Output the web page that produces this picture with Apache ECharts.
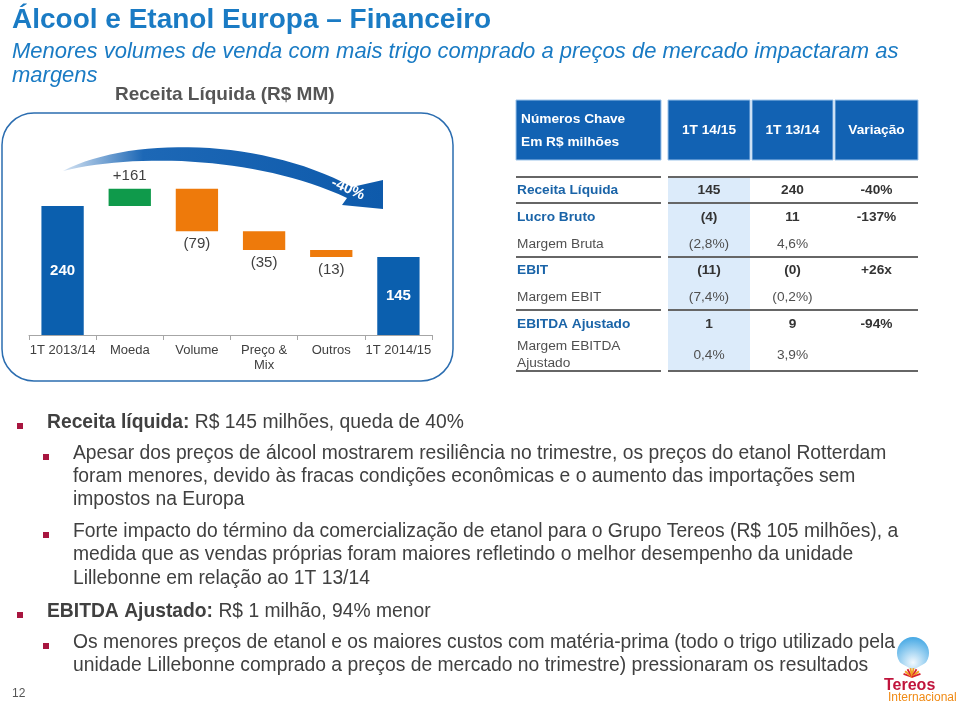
<!DOCTYPE html>
<html><head><meta charset="utf-8">
<script src="https://cdn.jsdelivr.net/npm/echarts@6/dist/echarts.min.js"></script>
<style>html,body{margin:0;padding:0;background:#fff}#c{width:960px;height:704px}</style>
</head><body><div id="c"></div>
<script>
// ---- chart data ----
const categories = ['1T 2013/14', 'Moeda', 'Volume', 'Preço &\nMix', 'Outros', '1T 2014/15'];
const startValue = 240;
const deltas = [32, -79, -35, -13];   // bar heights as drawn
const endValue = 145;
const barLabels = ['240', '+161', '(79)', '(35)', '(13)', '145'];

// ---- table data ----
const tableHeader = ['1T 14/15', '1T 13/14', 'Variação'];
const rowLabels = ['Receita Líquida', 'Lucro Bruto', 'Margem Bruta', 'EBIT', 'Margem EBIT', 'EBITDA Ajustado', 'Margem EBITDA\nAjustado'];
const col1415 = ['145', '(4)', '(2,8%)', '(11)', '(7,4%)', '1', '0,4%'];
const col1314 = ['240', '11', '4,6%', '(0)', '(0,2%)', '9', '3,9%'];
const colVar = ['-40%', '-137%', '', '+26x', '', '-94%', ''];
const boldRows = [true, true, false, true, false, true, false];

// ---- text ----
const bullets = [
  {lvl: 1, lines: ['{b|Receita líquida:} R$ 145 milhões, queda de 40%']},
  {lvl: 2, lines: ['Apesar dos preços de álcool mostrarem resiliência no trimestre, os preços do etanol Rotterdam',
                   'foram menores, devido às fracas condições econômicas e o aumento das importações sem',
                   'impostos na Europa']},
  {lvl: 2, lines: ['Forte impacto do término da comercialização de etanol para o Grupo Tereos (R$ 105 milhões), a',
                   'medida que as vendas próprias foram maiores refletindo o melhor desempenho da unidade',
                   'Lillebonne em relação ao 1T 13/14']},
  {lvl: 1, lines: ['{b|EBITDA Ajustado:} R$ 1 milhão, 94% menor']},
  {lvl: 2, lines: ['Os menores preços de etanol e os maiores custos com matéria-prima (todo o trigo utilizado pela',
                   'unidade Lillebonne comprado a preços de mercado no trimestre) pressionaram os resultados']}
];

const FONT = '"Liberation Sans", Arial, sans-serif';

// waterfall construction
const baseVals = [0], barVals = [startValue];
let run = startValue;
deltas.forEach(d => {
  if (d >= 0) { baseVals.push(run); barVals.push(d); run += d; }
  else { run += d; baseVals.push(run); barVals.push(-d); }
});
baseVals.push(0); barVals.push(endValue);
const barColors = ['#0b5fae', '#0f9a4b', '#ee7a0b', '#ee7a0b', '#ee7a0b', '#0b5fae'];

const barData = barVals.map((v, i) => {
  const isTotal = (i === 0 || i === barVals.length - 1);
  const isPos = !isTotal && deltas[i - 1] >= 0;
  return {
    value: v,
    itemStyle: {color: barColors[i]},
    label: {
      show: true,
      formatter: barLabels[i],
      position: isTotal ? 'inside' : (isPos ? 'top' : 'bottom'),
      distance: 5,
      color: isTotal ? '#ffffff' : '#404040',
      fontWeight: isTotal ? 'bold' : 'normal',
      fontSize: 15,
      fontFamily: FONT
    }
  };
});

const g = [];
function txt(x, y, text, o) {
  g.push({type: 'text', silent: true, z: 10, style: Object.assign({
    x: x, y: y, text: text, fontFamily: FONT, fontSize: 13, fill: '#333',
    align: 'left', verticalAlign: 'middle', textAlign: 'left', textVerticalAlign: 'middle'
  }, o || {})});
}
function rect(x, y, w, h, o, r) {
  g.push({type: 'rect', silent: true, shape: {x: x, y: y, width: w, height: h, r: r || 0}, style: o, z: 1});
}
function line(x1, y1, x2, y2, o) {
  g.push({type: 'line', silent: true, z: 2, shape: {x1: x1, y1: y1, x2: x2, y2: y2}, style: o});
}
function bez(p0, p1, p2, p3, n) {
  const pts = [];
  for (let i = 0; i <= n; i++) {
    const t = i / n, u = 1 - t;
    pts.push([u*u*u*p0[0] + 3*u*u*t*p1[0] + 3*u*t*t*p2[0] + t*t*t*p3[0],
              u*u*u*p0[1] + 3*u*u*t*p1[1] + 3*u*t*t*p2[1] + t*t*t*p3[1]]);
  }
  return pts;
}

// Titles
txt(12, 20, 'Álcool e Etanol Europa – Financeiro', {fontSize: 28, fontWeight: 'bold', fill: '#1a7bc4'});
txt(12, 52, 'Menores volumes de venda com mais trigo comprado a preços de mercado impactaram as', {fontSize: 22, fontStyle: 'italic', fill: '#1a7bc4'});
txt(12, 76, 'margens', {fontSize: 22, fontStyle: 'italic', fill: '#1a7bc4'});
txt(115, 95, 'Receita Líquida (R$ MM)', {fontSize: 19, fontWeight: 'bold', fill: '#555555'});

// Chart box
rect(2, 113, 451, 268, {fill: 'none', stroke: '#2b6db0', lineWidth: 1.5}, 32);

// Curved arrow (decoration)
const upper = bez([63, 171], [130, 136], [262, 138], [352, 187], 30);
const lower = bez([347, 198], [262, 158], [140, 152], [63, 171], 30);
const arrowPts = upper.concat([[383, 180], [383, 209], [342, 205]]).concat(lower);
g.push({type: 'polygon', silent: true, z: 5,
  shape: {points: arrowPts},
  style: {fill: {type: 'linear', x: 0, y: 0, x2: 1, y2: 0, colorStops: [
    {offset: 0, color: '#d6e4f3'}, {offset: 0.25, color: '#1d68b6'}, {offset: 1, color: '#0e5aab'}]}}
});
g.push({type: 'text', silent: true, z: 6, x: 348, y: 189, rotation: -0.42,
  style: {text: '-40%', x: 0, y: 0, fill: '#ffffff', fontWeight: 'bold', fontSize: 15, fontFamily: FONT,
    align: 'center', verticalAlign: 'middle', textAlign: 'center', textVerticalAlign: 'middle'}});

// Table header
const hdr = '#1262b3';
rect(516, 100, 145, 60, {fill: hdr, stroke: '#9cc3ea', lineWidth: 1});
txt(521, 119, 'Números Chave', {fill: '#fff', fontWeight: 'bold', fontSize: 13.7});
txt(521, 142, 'Em R$ milhões', {fill: '#fff', fontWeight: 'bold', fontSize: 13.7});
const colX = [668, 752, 835];
const colW = [82, 81, 83];
const colC = colX.map((x, i) => x + colW[i] / 2);
tableHeader.forEach((h, i) => {
  rect(colX[i], 100, colW[i], 60, {fill: hdr, stroke: '#9cc3ea', lineWidth: 1});
  txt(colC[i], 130, h, {fill: '#fff', fontWeight: 'bold', fontSize: 13.7, align: 'center', textAlign: 'center'});
});
rect(668, 178, 82, 192, {fill: '#dcebfa'});
[177, 203, 257, 310, 371].forEach(y => {
  line(516, y, 661, y, {stroke: '#666', lineWidth: 2});
  line(668, y, 918, y, {stroke: '#666', lineWidth: 2});
});
const rowY = [190, 217, 244, 270, 297, 324, 355];
rowLabels.forEach((lab, i) => {
  const b = boldRows[i];
  txt(517, rowY[i], lab, {fontSize: 13.7, fontWeight: b ? 'bold' : 'normal', fill: b ? '#1a64a8' : '#505050', lineHeight: 17});
  [col1415, col1314, colVar].forEach((col, j) => {
    if (col[i]) txt(colC[j], rowY[i], col[i], {fontSize: 13.7, fontWeight: b ? 'bold' : 'normal', fill: b ? '#333' : '#505050', align: 'center', textAlign: 'center'});
  });
});

// Bullets
const lineYs = [[423], [454, 477, 500], [532, 555, 579], [612], [643, 666]];
bullets.forEach((bl, k) => {
  const bx = bl.lvl === 1 ? 17 : 43;
  const tx = bl.lvl === 1 ? 47 : 73;
  rect(bx, lineYs[k][0], 6, 6, {fill: '#a8163f'});
  bl.lines.forEach((ln, j) => {
    txt(tx, lineYs[k][j], ln, {fontSize: 19.3, fill: '#404040', rich: {b: {fontWeight: 'bold', fontSize: 19.3, fontFamily: FONT, fill: '#404040'}}});
  });
});

// Page number
txt(12, 694, '12', {fontSize: 12, fill: '#555'});

// Logo (decoration)
g.push({type: 'circle', silent: true, z: 3, shape: {cx: 913, cy: 653, r: 16},
  style: {fill: {type: 'radial', x: 0.5, y: 0.8, r: 0.9, colorStops: [{offset: 0, color: '#f2f9fe'}, {offset: 1, color: '#2f9ee1'}]}}});
g.push({type: 'polygon', silent: true, z: 4, shape: {points: [[895, 660], [913, 670], [931, 660], [932, 674], [894, 674]]}, style: {fill: '#ffffff'}});
for (let a = -70; a <= 70; a += 20) {
  const r = a * Math.PI / 180;
  g.push({type: 'line', silent: true, z: 6, shape: {x1: 912, y1: 677, x2: 912 + Math.sin(r) * 9, y2: 677 - Math.cos(r) * 9},
    style: {stroke: (Math.abs(a) % 40 === 10) ? '#f0a020' : '#d8202f', lineWidth: 1.8}});
}
txt(884, 686, 'Tereos', {fontSize: 16, fontWeight: 'bold', fill: '#c0143c'});
txt(888, 698, 'Internacional', {fontSize: 12, fill: '#f08a14'});

const chart = echarts.init(document.getElementById('c'), null, {renderer: 'canvas'});
chart.setOption({
  animation: false,
  backgroundColor: '#ffffff',
  grid: {left: 29, width: 403, top: 173.75, height: 161.25},
  xAxis: {
    type: 'category', data: categories,
    axisLine: {lineStyle: {color: '#a6a6a6', width: 1}},
    axisTick: {show: true, length: 5, alignWithLabel: false, lineStyle: {color: '#a6a6a6'}},
    axisLabel: {color: '#404040', fontSize: 13, fontFamily: FONT, margin: 8, lineHeight: 15, interval: 0}
  },
  yAxis: {type: 'value', min: 0, max: 300, show: false, splitLine: {show: false}},
  series: [
    {type: 'bar', stack: 'w', data: baseVals, itemStyle: {color: 'transparent'}, barWidth: '63%', silent: true},
    {type: 'bar', stack: 'w', data: barData, barWidth: '63%'}
  ],
  graphic: {elements: g}
});
</script></body></html>
